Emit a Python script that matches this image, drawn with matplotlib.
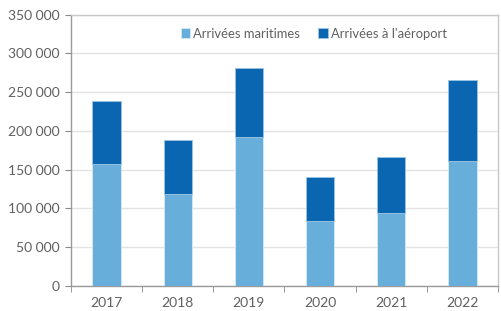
import numpy as np
import matplotlib.pyplot as plt
from matplotlib.ticker import FuncFormatter, FixedLocator

years = ['2017', '2018', '2019', '2020', '2021', '2022']
maritimes = [157400, 118700, 191800, 83900, 94200, 160900]
aeroport = [80900, 70000, 89800, 57100, 71800, 105300]

plt.rcParams['font.family'] = ['Lato', 'DejaVu Sans']
gray = '#606060'

fig = plt.figure(figsize=(5.01, 3.11), dpi=100)
ax = fig.add_axes([71 / 501, 1 - 286 / 311, (498 - 71) / 501, (286 - 14.7) / 311])

x = np.arange(len(years))
ax.bar(x, maritimes, width=0.4, color='#67AEDB', edgecolor='#d8eaf6', linewidth=0.6,
       label='Arrivées maritimes', zorder=3)
ax.bar(x, aeroport, bottom=maritimes, width=0.4, color='#0A66B0', edgecolor='#9cc3e3',
       linewidth=0.6, label="Arrivées à l'aéroport", zorder=3)

ax.set_xlim(-0.5, len(years) - 0.5)
ax.set_ylim(0, 350000)
ax.set_yticks(np.arange(0, 350001, 50000))
ax.yaxis.set_major_formatter(FuncFormatter(lambda v, p: f'{int(v):,}'.replace(',', ' ')))
ax.grid(axis='y', color='#e3e3e3', linewidth=1, zorder=0)

ax.set_xticks(x)
ax.set_xticklabels(years)
ax.xaxis.set_minor_locator(FixedLocator(np.arange(-0.5, len(years), 1)))
ax.tick_params(axis='x', which='major', length=0, pad=8, labelsize=10, labelcolor=gray)
ax.tick_params(axis='x', which='minor', length=4, color='#888888', direction='out')
ax.tick_params(axis='y', length=4, color='#888888', labelsize=10, labelcolor=gray, pad=4)

for s in ax.spines.values():
    s.set_color('#9a9a9a')
    s.set_linewidth(1)
ax.spines['right'].set_color('#c8c8c8')
ax.spines['top'].set_color('#c8c8c8')

ax.legend(loc='center', bbox_to_anchor=(0.568, 0.93), ncol=2, frameon=False,
          handlelength=0.75, handleheight=0.75, handletextpad=0.2, columnspacing=1.4,
          fontsize=9.4, labelcolor=gray)

fig.savefig('out.png', dpi=100)
